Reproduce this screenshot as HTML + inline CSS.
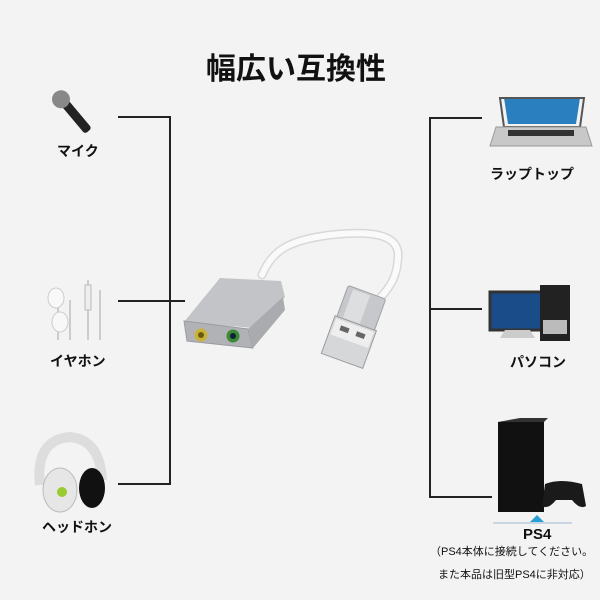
<!DOCTYPE html>
<html><head><meta charset="utf-8"><style>
body{margin:0;width:600px;height:600px;background:#f3f3f3;overflow:hidden;font-family:"Liberation Sans","Noto Sans CJK JP",sans-serif}
.t{position:absolute;font-weight:bold;color:#111;white-space:nowrap}
</style></head><body>
<svg width="600" height="600" style="position:absolute;left:0;top:0">
<g stroke="#222" stroke-width="2" fill="none">
<path d="M118 117H170V484H118M118 301H185"/>
<path d="M482 118H430V497H492M430 309H482"/>
</g>
<!-- cable -->
<path d="M262 275C272 250 290 240 330 235C375 230 400 235 398 258C397 275 392 285 380 298" stroke="#d8d8d8" stroke-width="9" fill="none" stroke-linecap="round"/>
<path d="M262 275C272 250 290 240 330 235C375 230 400 235 398 258C397 275 392 285 380 298" stroke="#fafafa" stroke-width="6" fill="none" stroke-linecap="round"/>
<!-- usb -->
<g transform="translate(354 328) rotate(20)">
<rect x="-20" y="-38" width="40" height="34" rx="2" fill="#c6c8cb" stroke="#a0a2a5"/>
<rect x="-14" y="-36" width="18" height="30" fill="#dcdee0"/>
<rect x="-22" y="-5" width="44" height="40" fill="#d6d7d9" stroke="#9a9b9d"/>
<rect x="-20" y="-3" width="40" height="17" fill="#eeeeee"/>
<rect x="-13" y="2" width="9" height="5" fill="#666"/>
<rect x="4" y="2" width="9" height="5" fill="#666"/>
</g>
<!-- adapter -->
<polygon points="220,278 281,281 285,297 254,328 184,322" fill="#c2c4c7"/>
<polygon points="184,321 248,329 253,348 187,341" fill="#b0b2b5" stroke="#9a9c9f"/>
<polygon points="248,329 283,297 285,310 253,348" fill="#a9abae"/>
<circle cx="201" cy="335" r="6.5" fill="#c9b23a"/><circle cx="201" cy="335" r="3" fill="#6a5a10"/>
<circle cx="233" cy="336" r="6.5" fill="#3a8a3a"/><circle cx="233" cy="336" r="3" fill="#123"/>
<!-- mic -->
<g transform="rotate(-40 70 110)"><rect x="66" y="100" width="9" height="38" rx="3" fill="#222"/><circle cx="70" cy="96" r="9" fill="#888"/></g>
<!-- earphones -->
<g stroke="#ccc" stroke-width="2" fill="none"><path d="M58 300V340M88 280V340M100 290V340M70 300V340"/></g>
<ellipse cx="56" cy="298" rx="8" ry="10" fill="#f8f8f8" stroke="#ccc"/>
<ellipse cx="60" cy="322" rx="8" ry="10" fill="#f8f8f8" stroke="#ccc"/>
<rect x="85" y="285" width="6" height="25" fill="#eee" stroke="#bbb"/>
<!-- headphones -->
<path d="M40 485Q35 440 70 437Q100 440 102 480" stroke="#ddd" stroke-width="10" fill="none"/>
<ellipse cx="60" cy="490" rx="17" ry="22" fill="#e6e6e6" stroke="#bbb"/>
<ellipse cx="92" cy="488" rx="13" ry="20" fill="#111"/>
<circle cx="62" cy="492" r="5" fill="#9c3" />
<!-- laptop -->
<path d="M504 98H580L576 124H508Z" fill="#2a7fbf"/><path d="M500 98H584L580 127H504Z" fill="none" stroke="#555" stroke-width="2"/>
<path d="M496 127H586L592 146H490Z" fill="#c8c8c8" stroke="#999"/>
<rect x="508" y="130" width="66" height="6" fill="#333"/>
<!-- pc -->
<rect x="490" y="292" width="52" height="38" fill="#1b4c8a" stroke="#333" stroke-width="3"/>
<rect x="540" y="285" width="30" height="56" fill="#222"/><rect x="543" y="320" width="24" height="14" fill="#bbb"/>
<path d="M505 330H530L535 338H500Z" fill="#ccc"/>
<!-- ps4 -->
<rect x="498" y="422" width="46" height="90" fill="#111"/>
<path d="M498 422L520 418H548L544 422Z" fill="#333"/>
<path d="M545 484Q560 478 582 484L586 506Q580 510 572 500H556Q548 510 542 506Z" fill="#1a1a1a"/>
<line x1="493" y1="523" x2="572" y2="523" stroke="#bcd" stroke-width="1.5"/>
<path d="M530 522L537 515L544 522Z" fill="#2a9fd6"/>
</svg>
<div class="t" style="left:206px;top:44px;font-size:30px">幅広い互換性</div>
<div class="t" style="left:57px;top:141px;font-size:14px">マイク</div>
<div class="t" style="left:50px;top:351px;font-size:14px">イヤホン</div>
<div class="t" style="left:42px;top:517px;font-size:14px">ヘッドホン</div>
<div class="t" style="left:490px;top:164px;font-size:14px">ラップトップ</div>
<div class="t" style="left:510px;top:352px;font-size:14px">パソコン</div>
<div class="t" style="left:523px;top:526px;font-size:15px">PS4</div>
<div class="t" style="left:430px;top:543px;font-size:11px;font-weight:normal">（PS4本体に接続してください。</div>
<div class="t" style="left:438px;top:566px;font-size:11px;font-weight:normal">また本品は旧型PS4に非対応）</div>
</body></html>
